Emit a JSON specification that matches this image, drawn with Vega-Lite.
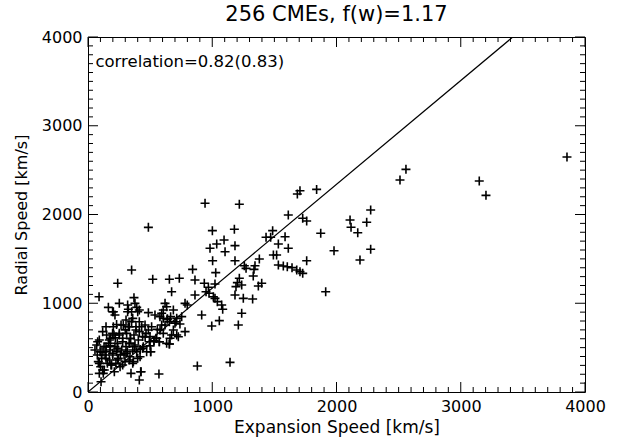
{
  "$schema": "https://vega.github.io/schema/vega-lite/v6.json",
  "width": 497,
  "height": 355,
  "autosize": "none",
  "padding": {"left": 88, "top": 37, "right": 34, "bottom": 51},
  "background": "white",
  "title": {"text": "256 CMEs, f(w)=1.17", "font": "DejaVu Sans", "fontSize": 21, "fontWeight": "normal", "color": "black", "offset": 4, "anchor": "middle"},
  "config": {
    "view": {"stroke": "black", "strokeWidth": 1},
    "axis": {"grid": false, "domain": false, "ticks": false, "labelColor": "black", "titleColor": "black", "labelFont": "DejaVu Sans", "titleFont": "DejaVu Sans", "labelFontSize": 16, "titleFontSize": 16, "titleFontWeight": "normal"}
  },
  "datasets": {
    "pts": [
      {"x":1840,"y":2283},{"x":1706,"y":2268},{"x":1685,"y":2231},{"x":942,"y":2126},{"x":1218,"y":2115},{"x":1612,"y":1994},{"x":1728,"y":1957},{"x":1760,"y":1927},{"x":486,"y":1855},{"x":1001,"y":1818},
      {"x":1178,"y":1833},{"x":1486,"y":1818},{"x":1433,"y":1743},{"x":1470,"y":1743},{"x":1586,"y":1750},{"x":1873,"y":1788},{"x":1095,"y":1713},{"x":1036,"y":1668},{"x":982,"y":1619},{"x":1103,"y":1581},
      {"x":1183,"y":1649},{"x":1532,"y":1668},{"x":1612,"y":1619},{"x":1980,"y":1592},{"x":1492,"y":1544},{"x":1518,"y":1544},{"x":1379,"y":1499},{"x":1760,"y":1479},{"x":1003,"y":1479},{"x":1183,"y":1479},
      {"x":1258,"y":1423},{"x":1344,"y":1423},{"x":1272,"y":1393},{"x":1336,"y":1382},{"x":1532,"y":1431},{"x":1572,"y":1420},{"x":1604,"y":1412},{"x":1642,"y":1401},{"x":1680,"y":1375},{"x":1706,"y":1356},
      {"x":1728,"y":1337},{"x":842,"y":1382},{"x":1028,"y":1345},{"x":351,"y":1375},{"x":521,"y":1270},{"x":655,"y":1270},{"x":735,"y":1281},{"x":239,"y":1225},{"x":861,"y":1262},{"x":936,"y":1225},
      {"x":969,"y":1180},{"x":1022,"y":1217},{"x":1218,"y":1281},{"x":1202,"y":1232},{"x":1191,"y":1187},{"x":1237,"y":1206},{"x":1398,"y":1225},{"x":1371,"y":1194},{"x":673,"y":1130},{"x":861,"y":1093},
      {"x":950,"y":1130},{"x":974,"y":1112},{"x":89,"y":1074},{"x":370,"y":1063},{"x":1009,"y":1074},{"x":1022,"y":1055},{"x":1183,"y":1093},{"x":1250,"y":1055},{"x":1325,"y":1048},{"x":1041,"y":1018},
      {"x":1076,"y":980},{"x":1084,"y":932},{"x":781,"y":999},{"x":799,"y":980},{"x":620,"y":999},{"x":633,"y":961},{"x":606,"y":924},{"x":164,"y":954},{"x":204,"y":905},{"x":217,"y":868},
      {"x":252,"y":999},{"x":319,"y":980},{"x":325,"y":932},{"x":351,"y":905},{"x":378,"y":999},{"x":392,"y":954},{"x":413,"y":924},{"x":486,"y":894},{"x":539,"y":868},{"x":593,"y":887},
      {"x":687,"y":924},{"x":665,"y":849},{"x":714,"y":830},{"x":754,"y":849},{"x":708,"y":792},{"x":740,"y":766},{"x":579,"y":849},{"x":606,"y":830},{"x":638,"y":822},{"x":655,"y":792},
      {"x":700,"y":774},{"x":781,"y":680},{"x":915,"y":868},{"x":996,"y":744},{"x":1057,"y":804},{"x":1210,"y":755},{"x":714,"y":642},{"x":727,"y":623},{"x":655,"y":541},{"x":574,"y":567},
      {"x":553,"y":605},{"x":531,"y":578},{"x":505,"y":454},{"x":571,"y":203},{"x":880,"y":293},{"x":1143,"y":334},{"x":427,"y":229},{"x":1237,"y":887},{"x":1330,"y":1307},
      {"x":3855,"y":2648},{"x":2559,"y":2509},{"x":2511,"y":2389},{"x":3149,"y":2377},{"x":3203,"y":2216},{"x":2275,"y":2051},{"x":2109,"y":1938},{"x":2243,"y":1912},{"x":2117,"y":1856},{"x":2171,"y":1795},
      {"x":2275,"y":1608},{"x":2189,"y":1487},{"x":1913,"y":1130},
      {"x":56,"y":473},{"x":70,"y":530},{"x":75,"y":417},{"x":83,"y":342},{"x":91,"y":586},{"x":97,"y":454},{"x":102,"y":285},{"x":110,"y":379},{"x":118,"y":248},{"x":123,"y":210},
      {"x":129,"y":511},{"x":137,"y":417},{"x":145,"y":454},{"x":150,"y":642},{"x":156,"y":323},{"x":164,"y":548},{"x":172,"y":361},{"x":177,"y":473},{"x":182,"y":605},{"x":190,"y":304},
      {"x":199,"y":417},{"x":204,"y":736},{"x":209,"y":642},{"x":217,"y":511},{"x":225,"y":323},{"x":231,"y":454},{"x":236,"y":548},{"x":244,"y":379},{"x":252,"y":661},{"x":258,"y":285},
      {"x":271,"y":473},{"x":279,"y":605},{"x":284,"y":755},{"x":290,"y":417},{"x":298,"y":342},{"x":306,"y":511},{"x":311,"y":661},{"x":317,"y":454},{"x":325,"y":736},{"x":333,"y":548},
      {"x":338,"y":398},{"x":343,"y":605},{"x":351,"y":793},{"x":360,"y":473},{"x":365,"y":342},{"x":370,"y":642},{"x":378,"y":530},{"x":386,"y":736},{"x":392,"y":454},{"x":405,"y":586},
      {"x":413,"y":680},{"x":419,"y":398},{"x":424,"y":229},{"x":432,"y":736},{"x":440,"y":624},{"x":445,"y":511},{"x":459,"y":755},{"x":467,"y":661},{"x":472,"y":454},{"x":486,"y":699},
      {"x":494,"y":567},{"x":499,"y":624},{"x":504,"y":454},{"x":512,"y":736},{"x":531,"y":578},{"x":547,"y":605},{"x":558,"y":706},{"x":574,"y":567},{"x":580,"y":699},{"x":593,"y":755},
      {"x":606,"y":661},{"x":620,"y":755},{"x":633,"y":548},{"x":639,"y":823},{"x":655,"y":541},{"x":660,"y":605},{"x":673,"y":642},{"x":687,"y":699},
      {"x":198,"y":905},{"x":319,"y":905},{"x":400,"y":905},{"x":306,"y":811},{"x":360,"y":830},{"x":413,"y":792},{"x":145,"y":736},{"x":266,"y":755},{"x":333,"y":736},{"x":118,"y":680},
      {"x":198,"y":661},{"x":252,"y":642},{"x":386,"y":699},{"x":78,"y":567},{"x":172,"y":586},{"x":279,"y":567},{"x":333,"y":548},{"x":145,"y":511},{"x":239,"y":492},{"x":373,"y":511},
      {"x":440,"y":492},{"x":105,"y":454},{"x":198,"y":436},{"x":306,"y":436},{"x":145,"y":379},{"x":239,"y":361},{"x":333,"y":361},{"x":400,"y":379},{"x":91,"y":323},{"x":185,"y":304},
      {"x":279,"y":304},{"x":360,"y":323},{"x":131,"y":248},{"x":212,"y":229},{"x":91,"y":210},{"x":346,"y":210},{"x":413,"y":135},{"x":105,"y":116},
      {"x":180,"y":520},{"x":220,"y":610},{"x":260,"y":420},{"x":300,"y":700},{"x":340,"y":600},{"x":420,"y":480},{"x":460,"y":620},{"x":500,"y":520},{"x":120,"y":450},{"x":230,"y":760}
    ],
    "fit": [{"x": 0, "y": 0}, {"x": 3419, "y": 4000}],
    "lab": [{"x": 60, "y": 3720, "t": "correlation=0.82(0.83)"}],
    "tk": [{"v":0},{"v":100},{"v":200},{"v":300},{"v":400},{"v":500},{"v":600},{"v":700},{"v":800},{"v":900},{"v":1000},{"v":1100},{"v":1200},{"v":1300},{"v":1400},{"v":1500},{"v":1600},{"v":1700},{"v":1800},{"v":1900},{"v":2000},{"v":2100},{"v":2200},{"v":2300},{"v":2400},{"v":2500},{"v":2600},{"v":2700},{"v":2800},{"v":2900},{"v":3000},{"v":3100},{"v":3200},{"v":3300},{"v":3400},{"v":3500},{"v":3600},{"v":3700},{"v":3800},{"v":3900},{"v":4000}]
  },
  "layer": [
    {
      "data": {"name": "pts"},
      "mark": {"type": "point", "shape": "M-1,0L1,0M0,-1L0,1", "size": 81, "filled": false, "stroke": "black", "strokeWidth": 1.6, "opacity": 1},
      "encoding": {
        "x": {"field": "x", "type": "quantitative", "scale": {"domain": [0, 4000], "nice": false, "zero": false}, "title": "Expansion Speed [km/s]",
          "axis": {"orient": "bottom", "values": [0,1000,2000,3000,4000], "format": "d", "labelPadding": 6, "titlePadding": 5, "titleFontSize": 17, "labelFlush": false, "labelOverlap": false}},
        "y": {"field": "y", "type": "quantitative", "scale": {"domain": [0, 4000], "nice": false, "zero": false}, "title": "Radial Speed [km/s]",
          "axis": {"orient": "left", "values": [0,1000,2000,3000,4000], "format": "d", "labelPadding": 6, "titlePadding": 12, "labelFlush": false, "labelOverlap": false}}
      }
    },
    {
      "data": {"name": "fit"},
      "mark": {"type": "line", "color": "black", "strokeWidth": 1.2, "clip": true},
      "encoding": {
        "x": {"field": "x", "type": "quantitative", "axis": null},
        "y": {"field": "y", "type": "quantitative", "axis": null}
      }
    },
    {
      "data": {"name": "tk"},
      "mark": {"type": "point", "shape": "M0,0L0,-1", "filled": false, "stroke": "black", "strokeWidth": 1, "opacity": 1},
      "encoding": {
        "x": {"field": "v", "type": "quantitative", "axis": null},
        "y": {"datum": 0, "type": "quantitative", "axis": null},
        "size": {"condition": {"test": "datum.v % 1000 === 0", "value": 400}, "value": 100}
      }
    },
    {
      "data": {"name": "tk"},
      "mark": {"type": "point", "shape": "M0,0L0,1", "filled": false, "stroke": "black", "strokeWidth": 1, "opacity": 1},
      "encoding": {
        "x": {"field": "v", "type": "quantitative", "axis": null},
        "y": {"datum": 4000, "type": "quantitative", "axis": null},
        "size": {"condition": {"test": "datum.v % 1000 === 0", "value": 400}, "value": 100}
      }
    },
    {
      "data": {"name": "tk"},
      "mark": {"type": "point", "shape": "M0,0L1,0", "filled": false, "stroke": "black", "strokeWidth": 1, "opacity": 1},
      "encoding": {
        "y": {"field": "v", "type": "quantitative", "axis": null},
        "x": {"datum": 0, "type": "quantitative", "axis": null},
        "size": {"condition": {"test": "datum.v % 1000 === 0", "value": 400}, "value": 100}
      }
    },
    {
      "data": {"name": "tk"},
      "mark": {"type": "point", "shape": "M0,0L-1,0", "filled": false, "stroke": "black", "strokeWidth": 1, "opacity": 1},
      "encoding": {
        "y": {"field": "v", "type": "quantitative", "axis": null},
        "x": {"datum": 4000, "type": "quantitative", "axis": null},
        "size": {"condition": {"test": "datum.v % 1000 === 0", "value": 400}, "value": 100}
      }
    },
    {
      "data": {"name": "lab"},
      "mark": {"type": "text", "align": "left", "baseline": "middle", "font": "DejaVu Sans", "fontSize": 16.5, "color": "black"},
      "encoding": {
        "x": {"field": "x", "type": "quantitative", "axis": null},
        "y": {"field": "y", "type": "quantitative", "axis": null},
        "text": {"field": "t"}
      }
    }
  ],
  "resolve": {"axis": {"x": "independent", "y": "independent"}}
}
